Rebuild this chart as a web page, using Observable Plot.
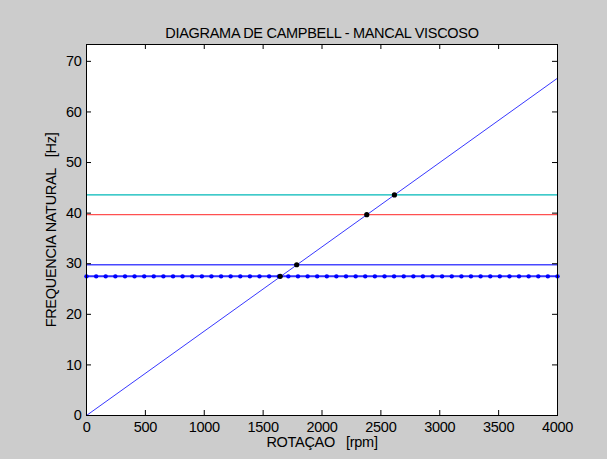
<!DOCTYPE html>
<html><head><meta charset="utf-8">
<script src="https://cdn.jsdelivr.net/npm/d3@7"></script>
<script src="https://cdn.jsdelivr.net/npm/@observablehq/plot@0.6"></script>
<style>
html,body{margin:0;padding:0;background:#cccccc;}
#chart svg{display:block;background:transparent;}
#chart svg text{white-space:pre;letter-spacing:-0.3px;}
</style></head><body><div id="chart"></div>
<script>
const titleText = "DIAGRAMA DE CAMPBELL - MANCAL VISCOSO";
const xLabelText = "ROTAÇAO   [rpm]";
const yLabelText = "FREQUENCIA NATURAL   [Hz]";
const xTicks = [0, 500, 1000, 1500, 2000, 2500, 3000, 3500, 4000];
const yTicks = [0, 10, 20, 30, 40, 50, 60, 70];
const xDomain = [0, 4000];
const yDomain = [0, 73.33];

// 1x rotation line
const rotacao = [0, 4000];
const freqRotacao = [0, 66.67];

// natural frequency lines
const freqCiano = 43.6;
const freqVermelho = 39.7;
const freqAzul = 29.8;
const freqAzulPontos = 27.5;

// sample points on the dotted line (rpm)
const rotacaoPontos = [0, 82, 163, 245, 327, 408, 490, 571, 653, 735, 816, 898, 980, 1061, 1143, 1224, 1306, 1388, 1469, 1551, 1633, 1714, 1796, 1878, 1959, 2041, 2122, 2204, 2286, 2367, 2449, 2531, 2612, 2694, 2776, 2857, 2939, 3020, 3102, 3184, 3265, 3347, 3429, 3510, 3592, 3673, 3755, 3837, 3918, 4000];

// intersections (black points)
const interRot = [1645, 1785, 2380, 2615];
const interFreq = [27.5, 29.8, 39.7, 43.6];

const W = 607, H = 459;
const mL = 86, mR = 50, mT = 44, mB = 44;
const pw = W - mL - mR, ph = H - mT - mB;
const tick = 5;

const dotted = rotacaoPontos.map(r => ({r, f: freqAzulPontos}));
const diag = rotacao.map((r, i) => ({r, f: freqRotacao[i]}));
const inter = interRot.map((r, i) => ({r, f: interFreq[i]}));

const chart = Plot.plot({
  width: W, height: H,
  marginLeft: mL, marginRight: mR, marginTop: mT, marginBottom: mB,
  style: {fontFamily: "'Liberation Sans', Arial, sans-serif", fontSize: "14.5px", color: "black", background: "transparent"},
  x: {domain: xDomain},
  y: {domain: yDomain},
  marks: [
    Plot.frame({fill: "white"}),
    Plot.ruleY([freqCiano], {stroke: "#00b8b8", strokeWidth: 1.3}),
    Plot.ruleY([freqVermelho], {stroke: "#ff5050", strokeWidth: 1.3}),
    Plot.ruleY([freqAzul], {stroke: "#4848ff", strokeWidth: 1.3}),
    Plot.line(dotted, {x: "r", y: "f", stroke: "#3030ff", strokeWidth: 2}),
    Plot.dot(dotted, {x: "r", y: "f", r: 2.2, fill: "#0000ff"}),
    Plot.line(diag, {x: "r", y: "f", stroke: "#3838ff", strokeWidth: 1}),
    Plot.dot(inter, {x: "r", y: "f", r: 2.6, fill: "black"}),
    Plot.ruleX(xTicks, {x: d => d, insetTop: ph - tick, stroke: "black"}),
    Plot.ruleX(xTicks, {x: d => d, insetBottom: ph - tick, stroke: "black"}),
    Plot.ruleY(yTicks, {y: d => d, insetRight: pw - tick, stroke: "black"}),
    Plot.ruleY(yTicks, {y: d => d, insetLeft: pw - tick, stroke: "black"}),
    Plot.frame({stroke: "black"}),
    Plot.axisX(xTicks, {tickSize: 0, tickPadding: 6, label: null, tickFormat: d => String(d), fill: "black"}),
    Plot.axisY(yTicks, {tickSize: 0, tickPadding: 5, label: null, tickFormat: d => String(d), fill: "black"}),
    Plot.text([titleText], {text: d => d, frameAnchor: "top", dy: -17, fill: "black"}),
    Plot.text([xLabelText], {text: d => d, frameAnchor: "bottom", dy: 31, fill: "black"}),
    Plot.text([yLabelText], {text: d => d, frameAnchor: "left", textAnchor: "middle", dx: -35, rotate: -90, fill: "black"})
  ]
});
document.getElementById("chart").appendChild(chart);
</script></body></html>
